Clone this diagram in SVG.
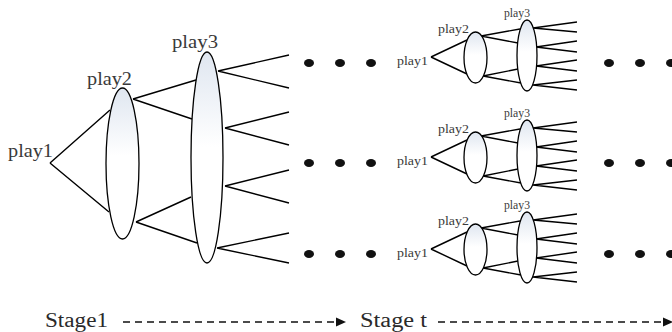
<svg xmlns="http://www.w3.org/2000/svg" width="672" height="332" viewBox="0 0 672 332">
  <defs>
    <linearGradient id="lens" x1="0" y1="0" x2="0" y2="1">
      <stop offset="0" stop-color="#dfe6f0"/>
      <stop offset="0.45" stop-color="#ffffff"/>
      <stop offset="1" stop-color="#ffffff"/>
    </linearGradient>
    <g id="subtree">
      <g class="edges">
        <path d="M431,57 L467,40 M431,57 L467,74 M481,36 L520,29 M481,36 L518,43 M483,76 L518,69 M483,76 L521,83 M533,28 L577,22 M533,28 L577,32 M536,47 L577,41 M536,47 L577,52 M536,66 L577,60 M536,66 L577,71 M533,85 L577,80 M533,85 L577,90"/>
      </g>
      <g class="node">
        <text class="lbl" x="397" y="65" font-size="13" textLength="31" lengthAdjust="spacingAndGlyphs">play1</text>
      </g>
      <g class="node">
        <ellipse class="lens" cx="475.5" cy="57.5" rx="11.5" ry="25.5"/>
        <text class="lbl" x="438" y="33" font-size="13" textLength="31" lengthAdjust="spacingAndGlyphs">play2</text>
      </g>
      <g class="node">
        <ellipse class="lens" cx="527" cy="55.5" rx="10" ry="35.5"/>
        <text class="lbl" x="504" y="17" font-size="11.5" textLength="26" lengthAdjust="spacingAndGlyphs">play3</text>
      </g>
    </g>
  </defs>
  <style>
    .edges path { fill: none; stroke: #000; stroke-width: 1.4; }
    .lens { fill: url(#lens); stroke: #000; stroke-width: 1.3; }
    .lbl { font-family: "Liberation Serif", "Times New Roman", serif; fill: #3a3a3a; }
    .dot { fill: #111; }
    .stage { font-family: "Liberation Serif", "Times New Roman", serif; font-size: 20px; fill: #2a2a2a; }
    .flow { fill: none; stroke: #111; stroke-width: 1.5; stroke-dasharray: 7 5; }
  </style>

  <!-- stage 1 tree -->
  <g id="connectors">
    <g class="edges">
      <path d="M50,163 L110,110 M50,163 L109,212"/>
      <path d="M133,99 L196,80 M133,99 L192,119 M136,222 L191,197 M136,222 L197,243"/>
      <path d="M218,71 L289,55 M218,71 L289,88 M225,128 L289,112 M225,128 L289,145 M225,186 L289,170 M225,186 L289,203 M217,248 L289,233 M217,248 L289,263"/>
    </g>
  </g>
  <g id="play1">
    <text class="lbl" x="8" y="157" font-size="18" textLength="45" lengthAdjust="spacingAndGlyphs">play1</text>
  </g>
  <g id="play2">
    <ellipse class="lens" cx="122.5" cy="163.5" rx="16.5" ry="75.5"/>
    <text class="lbl" x="87" y="85" font-size="18" textLength="45" lengthAdjust="spacingAndGlyphs">play2</text>
  </g>
  <g id="play3">
    <ellipse class="lens" cx="207" cy="157.5" rx="16" ry="105.5"/>
    <text class="lbl" x="172" y="48" font-size="18" textLength="46" lengthAdjust="spacingAndGlyphs">play3</text>
  </g>

  <!-- continuation dots -->
  <g id="dots-left">
    <ellipse class="dot" cx="309" cy="63" rx="5" ry="4"/>
    <ellipse class="dot" cx="340" cy="63" rx="5" ry="4"/>
    <ellipse class="dot" cx="371" cy="63" rx="5" ry="4"/>
    <ellipse class="dot" cx="309" cy="163" rx="5" ry="4"/>
    <ellipse class="dot" cx="340" cy="163" rx="5" ry="4"/>
    <ellipse class="dot" cx="371" cy="163" rx="5" ry="4"/>
    <ellipse class="dot" cx="309" cy="254" rx="5" ry="4"/>
    <ellipse class="dot" cx="340" cy="254" rx="5" ry="4"/>
    <ellipse class="dot" cx="371" cy="254" rx="5" ry="4"/>
  </g>

  <!-- stage t trees -->
  <g id="tree-t1"><use href="#subtree"/></g>
  <g id="tree-t2"><use href="#subtree" transform="translate(0,100)"/></g>
  <g id="tree-t3"><use href="#subtree" transform="translate(0,192)"/></g>

  <g id="dots-right">
    <ellipse class="dot" cx="609" cy="63" rx="5" ry="4"/>
    <ellipse class="dot" cx="640" cy="63" rx="5" ry="4"/>
    <ellipse class="dot" cx="671" cy="63" rx="5" ry="4"/>
    <ellipse class="dot" cx="609" cy="163" rx="5" ry="4"/>
    <ellipse class="dot" cx="640" cy="163" rx="5" ry="4"/>
    <ellipse class="dot" cx="671" cy="163" rx="5" ry="4"/>
    <ellipse class="dot" cx="609" cy="254" rx="5" ry="4"/>
    <ellipse class="dot" cx="640" cy="254" rx="5" ry="4"/>
    <ellipse class="dot" cx="671" cy="254" rx="5" ry="4"/>
  </g>

  <!-- stage timeline -->
  <g id="timeline">
    <text class="stage" x="45" y="327" textLength="63" lengthAdjust="spacingAndGlyphs">Stage1</text>
    <path class="flow" d="M123,322 L336,322"/>
    <polygon fill="#111" points="336,317.5 346,322 336,326.5"/>
    <text class="stage" x="360" y="327" textLength="67" lengthAdjust="spacingAndGlyphs">Stage t</text>
    <path class="flow" d="M438,322 L663,322"/>
    <polygon fill="#111" points="663,317.5 673,322 663,326.5"/>
  </g>
</svg>
